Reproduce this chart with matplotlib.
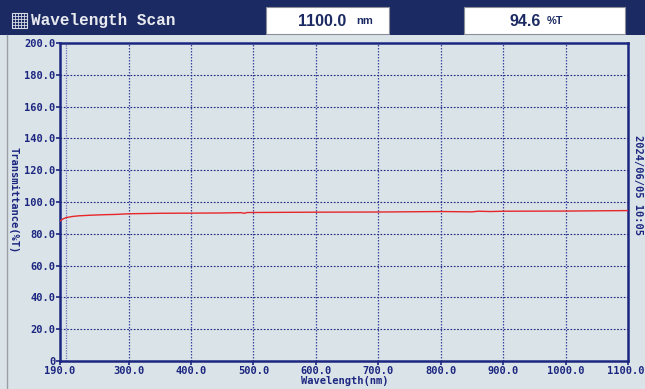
"""
Wavelength scan display: transmittance vs wavelength, instrument-style screen.
Output: out.png
"""
import matplotlib.pyplot as plt
import matplotlib.patches as mpatches
from matplotlib.lines import Line2D

# ── Scan data ───────────────────────────────────────────────────────────────

WAVELENGTH = [190, 195, 200, 210, 220, 240, 260, 280, 300, 350, 400, 450,
              480, 485, 490, 500, 600, 700, 800, 850, 860, 880, 900, 1000, 1100]
TRANSMITTANCE = [88.0, 89.4, 90.2, 90.9, 91.3, 91.7, 92.0, 92.2, 92.6, 92.9,
                 93.0, 93.1, 93.3, 92.9, 93.4, 93.4, 93.6, 93.7, 94.0, 93.8,
                 94.2, 94.0, 94.2, 94.3, 94.6]

X_TICKS = [190, 300, 400, 500, 600, 700, 800, 900, 1000, 1100]
Y_TICKS = [0, 20, 40, 60, 80, 100, 120, 140, 160, 180, 200]

CURRENT_WL = "1100.0"
CURRENT_T = "94.6"
TIMESTAMP = "2024/06/05 10:05"

NAVY = "#1b2a62"
INK = "#1c2680"
BG = "#dae3e7"
MONO = "DejaVu Sans Mono"

W, H = 645, 389
fig = plt.figure(figsize=(W / 100, H / 100), dpi=100, facecolor=BG)


def px(x, y):
    """pixel coords (top-left origin) -> figure fraction"""
    return x / W, 1 - y / H


# ── Header bar ─────────────────────────────────────────────────────────────
fig.patches.append(mpatches.Rectangle(px(0, 35), 1, 35 / H, transform=fig.transFigure,
                                      facecolor=NAVY, edgecolor="none", zorder=0))
for x0, x1 in [(266, 389), (464, 625)]:
    fig.patches.append(mpatches.Rectangle(px(x0, 34), (x1 - x0) / W, 27 / H,
                                          transform=fig.transFigure, facecolor="white",
                                          edgecolor="#8a8f9a", linewidth=0.8, zorder=1))

# little grid icon in front of the title
ix, iy = 12, 13
fig.patches.append(mpatches.Rectangle(px(ix, iy + 15), 15 / W, 15 / H, transform=fig.transFigure,
                                      facecolor="none", edgecolor="#d8dce6", linewidth=0.8))
for k in range(1, 5):
    fig.lines.append(Line2D([px(ix + 3 * k, 0)[0]] * 2, [px(0, iy)[1], px(0, iy + 15)[1]],
                            transform=fig.transFigure, color="#d8dce6", linewidth=0.6))
    fig.lines.append(Line2D([px(ix, 0)[0], px(ix + 15, 0)[0]], [px(0, iy + 3 * k)[1]] * 2,
                            transform=fig.transFigure, color="#d8dce6", linewidth=0.6))

fig.text(*px(31, 21), "Wavelength Scan", family="Liberation Mono", fontsize=11.5,
         fontweight="bold", color="#e8eaf0", va="center", ha="left")
fig.text(*px(346, 21), CURRENT_WL, family="Liberation Sans", fontsize=11.5,
         fontweight="bold", color=NAVY, va="center", ha="right")
fig.text(*px(356, 21), "nm", family="Liberation Sans", fontsize=8,
         fontweight="bold", color=NAVY, va="center", ha="left")
fig.text(*px(541, 21), CURRENT_T, family="Liberation Sans", fontsize=11.5,
         fontweight="bold", color=NAVY, va="center", ha="right")
fig.text(*px(547, 21), "%T", family="Liberation Sans", fontsize=8,
         fontweight="bold", color=NAVY, va="center", ha="left")

# left panel border
fig.lines.append(Line2D([px(7, 0)[0]] * 2, [px(0, 35)[1], 0], transform=fig.transFigure,
                        color="#9aa0a6", linewidth=1.0))

# ── Plot area ───────────────────────────────────────────────────────────────
l, t = px(60, 43)
r, b = px(628, 361)
ax = fig.add_axes([l, b, r - l, t - b])
ax.set_facecolor(BG)

ax.plot(WAVELENGTH, TRANSMITTANCE, color="#e8262a", linewidth=1.0, zorder=3)

ax.set_xlim(190, 1100)
ax.set_ylim(0, 200)
ax.set_xticks(X_TICKS)
ax.set_xticklabels([f"{v:.1f}" for v in X_TICKS])
ax.set_yticks(Y_TICKS)
ax.set_yticklabels(["0"] + [f"{v:.1f}" for v in Y_TICKS[1:]])

for v in X_TICKS[1:-1]:
    ax.axvline(v, color="#3a44a0", linestyle=(0, (1.2, 1.2)), linewidth=0.9, zorder=1)
ax.axvline(199, color="#6a72b8", linestyle=(0, (1, 1)), linewidth=0.9, zorder=1)
for v in Y_TICKS[1:-1]:
    ax.axhline(v, color=INK, linestyle=(0, (1.5, 1.5)), linewidth=0.8, zorder=1)

for s in ax.spines.values():
    s.set_color(INK)
    s.set_linewidth(1.8)

ax.tick_params(axis="both", colors=INK, length=3, width=1.2, direction="out", pad=0.5)
for lab in ax.get_xticklabels() + ax.get_yticklabels():
    lab.set_family(MONO)
    lab.set_fontweight("bold")
    lab.set_fontsize(7.5)
    lab.set_color(INK)
# last x label sits against the right edge of the screen
ax.get_xticklabels()[-1].set_horizontalalignment("right")
ax.get_xticklabels()[-1].set_x(1100)
ax.get_xticklabels()[-1].set_transform(ax.get_xticklabels()[-1].get_transform()
                                       + __import__("matplotlib").transforms.ScaledTranslation(
                                           17 / 100, 0, fig.dpi_scale_trans))

fig.text(*px(345, 381), "Wavelength(nm)", family=MONO, fontweight="bold", fontsize=7.5,
         color=INK, ha="center", va="center")
fig.text(*px(14, 200), "Transmittance(%T)", family=MONO, fontweight="bold", fontsize=7.5,
         color=INK, ha="center", va="center", rotation=-90)
fig.text(*px(638, 185), TIMESTAMP, family=MONO, fontweight="bold", fontsize=7.5,
         color=INK, ha="center", va="center", rotation=-90)

fig.savefig("out.png", dpi=100, facecolor=BG)
